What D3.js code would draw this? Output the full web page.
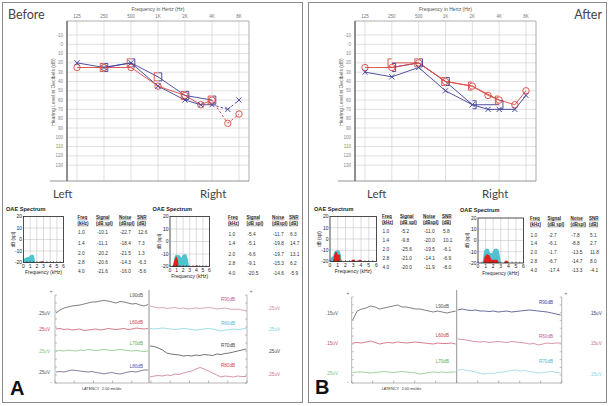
<!DOCTYPE html>
<html><head><meta charset="utf-8">
<script src="https://cdn.jsdelivr.net/npm/d3@7"></script>
<style>body{margin:0;background:#fff}svg{display:block}</style>
</head><body>
<svg id="c" width="609" height="406"></svg>
<script>
// ---------------- DATA ----------------
const audFreqs = [125,250,500,1000,2000,3000,4000,6000,8000];
const audTickFreqs = [125,250,500,1000,2000,4000,8000];
const audTickLabels = ["125","250","500","1K","2K","4K","8K"];
const audDbTicks = [-10,0,10,20,30,40,50,60,70,80,90,100,110,120,130];
const boneFreqs = [250,500,1000,2000,4000];

const beforeRightAir  = [25,25,25,45,55,65,60,85,75];
const beforeLeftAir   = [20,25,20,45,60,65,65,70,60];
const beforeRightBone = [25,20,35,55,60];
const beforeLeftBone  = [25,20,35,55,60];

const afterRightAir  = [25,25,20,40,45,55,60,65,50];
const afterLeftAir   = [30,35,25,50,65,70,70,70,55];
const afterRightBone = [20,20,40,45,60];
const afterLeftBone  = [25,20,40,65,65];

const oaeYTicks = [20,10,0,-10,-20];
const oaeXTicks = [0,1,2,3,4,5,6];
const tableFreqs = ["1.0","1.4","2.0","2.8","4.0"];
const tableHead1 = ["Freq","Signal","Noise","SNR"];
const tableHead2 = ["(kHz)","(dB spl)","(dBspl)","(dB)"];

const beforeLeftSignal = ["-10.1","-11.1","-20.2","-20.6","-21.6"];
const beforeLeftNoise  = ["-22.7","-18.4","-21.5","-14.3","-16.0"];
const beforeLeftSNR    = ["12.6","7.3","1.3","-6.3","-5.6"];
const beforeRightSignal = ["-5.4","-5.1","-6.6","-9.1","-20.5"];
const beforeRightNoise  = ["-11.7","-19.8","-19.7","-15.3","-14.6"];
const beforeRightSNR    = ["6.3","14.7","13.1","6.2","-5.9"];
const afterLeftSignal = ["-5.2","-9.8","-25.6","-21.0","-20.0"];
const afterLeftNoise  = ["-11.0","-20.0","-19.5","-14.1","-11.9"];
const afterLeftSNR    = ["5.8","10.1","-6.1","-6.9","-8.0"];
const afterRightSignal = ["-2.7","-6.1","-1.7","-6.7","-17.4"];
const afterRightNoise  = ["-7.8","-8.8","-13.5","-14.7","-13.3"];
const afterRightSNR    = ["5.1","2.7","11.8","8.0","-4.1"];

// OAE spectrum outlines [kHz, dB]
const beforeLeftNoiseSpec  = [[[0,-20],[0.1,-16.5],[0.5,-15.5],[0.8,-15],[1.0,-14],[1.3,-13],[1.5,-13.5],[1.6,-15],[1.75,-20]]];
const beforeLeftSignalSpec = [[[2.55,-20],[2.65,-19],[2.9,-19],[3.0,-20]]];
const beforeRightNoiseSpec  = [[[0.5,-20],[0.7,-12],[0.9,-10.5],[1.2,-11],[1.5,-11],[1.7,-13],[1.9,-11],[2.2,-10],[2.5,-10.5],[2.7,-14],[2.9,-20]]];
const beforeRightSignalSpec = [[[0.4,-20],[0.6,-16],[0.8,-13],[1.0,-12],[1.2,-15],[1.3,-20]],[[3.85,-20],[3.95,-19.2],[4.2,-19.2],[4.3,-20]]];
const afterLeftNoiseSpec  = [[[0,-20],[0.1,-17],[0.4,-15],[0.6,-11],[0.9,-10],[1.2,-10],[1.4,-14],[1.5,-20]]];
const afterLeftSignalSpec = [[[0.4,-20],[0.5,-15],[0.7,-11],[0.9,-12],[1.0,-14],[1.3,-14],[1.35,-20]],[[2.7,-20],[2.85,-18.5],[3.2,-18.5],[3.3,-20]],[[3.6,-20],[3.7,-18.5],[4.0,-18.5],[4.1,-20]],[[4.5,-20],[4.6,-19.5],[5.0,-19.5],[5.1,-20]]];
const afterRightNoiseSpec  = [[[0.6,-20],[0.8,-9],[1.1,-7],[1.4,-7.5],[1.6,-11],[1.9,-11],[2.1,-7.5],[2.4,-7],[2.7,-8],[2.9,-14],[3.0,-20]]];
const afterRightSignalSpec = [[[0.7,-20],[0.9,-14],[1.2,-12],[1.5,-13],[1.7,-16],[1.8,-17],[2.6,-17],[2.7,-20]],[[3.5,-20],[3.6,-18],[3.9,-18],[4.0,-20]]];

// ABR traces (relative amplitude, up positive)
const abrA_L90 = [0,3,5,6,7,7.5,8,9,10,11,11,12,12.5,12,11,10,11.5,11,10,9,9.5,8,7,8.5];
const abrA_L60 = [0,0.5,-0.5,0,-1,-0.5,0,-1.5,-1,-0.5,0,-1,-0.5,0.5,0,-0.5,0,0.5,-0.5,0,1,0.5,0,0.5];
const abrA_L70 = [0,0.5,0,1,0.5,0,1,0.5,1.5,1,0.5,1,1.5,1,0.5,1,1.5,1,0.5,0,0.5,0,-0.5,0];
const abrA_L80 = [0,0.5,0,1,2,1.5,1,0.5,0,0.5,-0.5,-1,-2,-1,-0.5,-1.5,-2,-1,0,0.5,0,1,2,2];
const abrA_R90 = [2,1,0,0.5,-0.5,0,0.5,-0.5,0,-1,-0.5,0,-0.5,0,0.5,0,-1,-0.5,0,-1,-1.5,-1,-2,-2.5];
const abrA_R60 = [0.5,0,0.5,1,0.5,0,-0.5,0,0.5,0,-0.5,-1,-0.5,0,0.5,0,-1,-2,-1,-0.5,0,-0.5,0,0.5];
const abrA_R70 = [5,4.5,3,1,-2,-3,-3.5,-4,-5,-4.5,-5,-4,-4.5,-3.5,-4,-4.5,-3,-3.5,-2.5,-2,-1,0,1,2];
const abrA_R80 = [-3,-2,-1.5,-2,-1,-1.5,0,-0.5,1,2,3,5,6.5,5,3,1,-1,-3,-2,-2.5,-3,-2,-2.5,-2.5];
const abrB_L90 = [-7,2,4,5,7,6,4,5,6,7,8,6,6,5,4,4,3,2,1,2,1,0,1,2];
const abrB_L60 = [0,0.5,0,1,2,0.5,-1,0,0.5,0,1,0.5,0,0.5,1,0.5,0,-0.5,-1,0,-0.5,-0.5,0,-1];
const abrB_L70 = [0,0.5,0.5,0,-0.5,0,0.5,1,0.5,0,0.5,1,0.5,0,-0.5,-1.5,-1,0,0.5,0,0.5,0,0.5,0.5];
const abrB_R90 = [3,4,3,2.5,3,2,2,1.5,2,1,1.5,2,1,1.5,2,2.5,3,2.5,2,1.5,1,0,-1,-2];
const abrB_R60 = [4,3.5,3,2,1.5,1,1.5,0.5,1,1.5,1,0.5,1.5,1,0.5,0,-1,-0.5,-2,-1,0,-0.5,0,0];
const abrB_R70 = [2,2.5,1.5,1,0,-1.5,-2,-1,-1.5,-0.5,0,0.5,1.5,2,1,1.5,0.5,0,-1,-0.5,0,0.5,-0.5,-1];

// ---------------- DRAWING ----------------
const RED = "#d9473f", BLUE = "#3d3d99", CYAN = "#4fc3cf", OAERED = "#e3211c";
const SMALL = "Liberation Sans, Arial, sans-serif";
const BIG = "Lato, 'Open Sans', sans-serif";
const svg = d3.select("#c");
svg.append("rect").attr("width",609).attr("height",406).attr("fill","#fff");

[[2.5,2.5,300,400],[308.5,2.5,298,400]].forEach(r=>{
  svg.append("rect").attr("x",r[0]).attr("y",r[1]).attr("width",r[2]).attr("height",r[3])
    .attr("fill","none").attr("stroke","#8a8a8a").attr("stroke-width",1);
});

function txt(g,x,y,s,o={}){
  const t=g.append("text").attr("x",x).attr("y",y).text(s)
    .attr("font-family",o.font||SMALL).attr("font-size",o.size||5)
    .attr("fill",o.fill||"#333").attr("text-anchor",o.anchor||"start");
  if(o.weight) t.attr("font-weight",o.weight);
  if(o.rotate) t.attr("transform",`rotate(-90,${x},${y})`);
  return t;
}

function drawAudiogram(L, d){
  const g = svg.append("g");
  const x = d3.scaleLog().base(2).domain([125,8000]).range([L.left+10, L.right-10]);
  const y = d3.scaleLinear().domain([-25,147]).range([L.top, L.bottom]);
  g.append("g").selectAll("line").data(audTickFreqs).join("line")
    .attr("x1",f=>x(f)).attr("x2",f=>x(f)).attr("y1",L.top).attr("y2",L.bottom)
    .attr("stroke","#d2d2d2").attr("stroke-width",0.7);
  g.append("g").selectAll("line").data(audDbTicks).join("line")
    .attr("x1",L.left).attr("x2",L.right).attr("y1",v=>y(v)).attr("y2",v=>y(v))
    .attr("stroke","#d2d2d2").attr("stroke-width",0.7);
  g.append("path").attr("d",`M${L.left},${L.top}H${L.right}V${L.bottom}`)
    .attr("fill","none").attr("stroke","#9a9a9a").attr("stroke-width",0.8);
  g.append("line").attr("x1",L.left).attr("x2",L.left).attr("y1",L.top).attr("y2",L.bottom)
    .attr("stroke","#444").attr("stroke-width",1.2);
  g.append("line").attr("x1",L.left-17).attr("x2",L.right).attr("y1",L.bottom).attr("y2",L.bottom)
    .attr("stroke","#777").attr("stroke-width",0.8);
  audTickFreqs.forEach((f,i)=>txt(g,x(f),L.top-3,audTickLabels[i],{size:4.5,fill:"#777",anchor:"middle"}));
  audDbTicks.forEach(v=>txt(g,L.left-4,y(v)+1.6,String(v),{size:4.5,fill:"#888",anchor:"end"}));
  txt(g,(L.left+L.right)/2,11,"Frequency in Hertz (Hz)",{size:5,fill:"#555",anchor:"middle"});
  txt(g,L.left-12,92,"Hearing Level in Decibels (dB)",{size:5,fill:"#555",anchor:"middle",rotate:true});

  const air = (vals)=>vals.map((v,i)=>[x(audFreqs[i]),y(v)]);
  const bone = (vals)=>vals.map((v,i)=>[x(boneFreqs[i]),y(v)]);
  function polyline(pts,color,dashFrom){
    for(let i=0;i<pts.length-1;i++){
      g.append("line").attr("x1",pts[i][0]).attr("y1",pts[i][1]).attr("x2",pts[i+1][0]).attr("y2",pts[i+1][1])
        .attr("stroke",color).attr("stroke-width",0.9)
        .attr("stroke-dasharray", i>=dashFrom ? "2.5,2" : null);
    }
  }
  const rA = air(d.rightAir), lA = air(d.leftAir), rB = bone(d.rightBone), lB = bone(d.leftBone);
  if(d.leftBoneLine) polyline(lB,BLUE,99);
  if(d.rightBoneLine) polyline(rB,RED,99);
  polyline(lA,BLUE,d.dashFrom);
  polyline(rA,RED,d.dashFrom);
  g.append("g").selectAll("path").data(rB).join("path")
    .attr("d",p=>`M${p[0]-0.3},${p[1]-4}H${p[0]-3.8}V${p[1]+4}H${p[0]-0.3}`)
    .attr("fill","none").attr("stroke",RED).attr("stroke-width",0.9);
  g.append("g").selectAll("path").data(lB).join("path")
    .attr("d",p=>`M${p[0]+0.3},${p[1]-4}H${p[0]+3.8}V${p[1]+4}H${p[0]+0.3}`)
    .attr("fill","none").attr("stroke",BLUE).attr("stroke-width",0.9);
  g.append("g").selectAll("circle").data(rA).join("circle")
    .attr("cx",p=>p[0]).attr("cy",p=>p[1]).attr("r",3.2)
    .attr("fill","none").attr("stroke",RED).attr("stroke-width",0.9);
  g.append("g").selectAll("path").data(lA).join("path")
    .attr("d",p=>`M${p[0]-2.6},${p[1]-2.6}L${p[0]+2.6},${p[1]+2.6}M${p[0]-2.6},${p[1]+2.6}L${p[0]+2.6},${p[1]-2.6}`)
    .attr("stroke",BLUE).attr("stroke-width",0.9);
}

drawAudiogram({left:67,right:249,top:21,bottom:181},
  {rightAir:beforeRightAir,leftAir:beforeLeftAir,rightBone:beforeRightBone,leftBone:beforeLeftBone,dashFrom:6,leftBoneLine:true,rightBoneLine:false});
drawAudiogram({left:355,right:536,top:21,bottom:181},
  {rightAir:afterRightAir,leftAir:afterLeftAir,rightBone:afterRightBone,leftBone:afterLeftBone,dashFrom:99,leftBoneLine:true,rightBoneLine:true});

txt(svg,8,19,"Before",{font:BIG,size:12.5,fill:"#444"});
txt(svg,602,19,"After",{font:BIG,size:12.5,fill:"#444",anchor:"end"});
txt(svg,53,198,"Left",{font:BIG,size:11.5,fill:"#444"});
txt(svg,200,198,"Right",{font:BIG,size:11.5,fill:"#444"});
txt(svg,367,198,"Left",{font:BIG,size:11.5,fill:"#444"});
txt(svg,482,198,"Right",{font:BIG,size:11.5,fill:"#444"});

// ---------------- OAE ----------------
function drawOAE(L, noiseSpec, signalSpec, tbl){
  const g = svg.append("g");
  const x = d3.scaleLinear().domain([0,6]).range([L.left,L.right]);
  const y = d3.scaleLinear().domain([-20,20]).range([L.bottom,L.top]);
  txt(g,L.titleX,L.titleY,"OAE Spectrum",{size:5.6,weight:"bold",fill:"#222"});
  g.append("g").selectAll("line").data([1,2,3,4,5]).join("line")
    .attr("x1",v=>x(v)).attr("x2",v=>x(v)).attr("y1",L.top).attr("y2",L.bottom)
    .attr("stroke","#bbb").attr("stroke-width",0.5);
  g.append("g").selectAll("line").data([-10,0,10]).join("line")
    .attr("x1",L.left).attr("x2",L.right).attr("y1",v=>y(v)).attr("y2",v=>y(v))
    .attr("stroke","#bbb").attr("stroke-width",0.5);
  const area = d3.area().x(p=>x(p[0])).y0(y(-20)).y1(p=>y(p[1]));
  noiseSpec.forEach(s=>g.append("path").attr("d",area(s)).attr("fill",CYAN));
  signalSpec.forEach(s=>g.append("path").attr("d",area(s)).attr("fill",OAERED));
  g.append("rect").attr("x",L.left).attr("y",L.top).attr("width",L.right-L.left).attr("height",L.bottom-L.top)
    .attr("fill","none").attr("stroke","#222").attr("stroke-width",0.8);
  g.append("g").selectAll("line").data(d3.range(0,6.01,0.5)).join("line")
    .attr("x1",v=>x(v)).attr("x2",v=>x(v)).attr("y1",L.bottom).attr("y2",L.bottom-1.5)
    .attr("stroke","#222").attr("stroke-width",0.5);
  oaeXTicks.forEach(v=>txt(g,x(v),L.bottom+5,String(v),{size:5,fill:"#222",anchor:"middle"}));
  oaeYTicks.forEach(v=>txt(g,L.left-1.5,y(v)+1.8,String(v),{size:5,fill:"#222",anchor:"end"}));
  txt(g,(L.left+L.right)/2,L.bottom+11.5,"Frequency (kHz)",{size:5,fill:"#222",anchor:"middle"});
  txt(g,L.left-9,(L.top+L.bottom)/2,"dB (spl)",{size:4.5,fill:"#222",anchor:"middle",rotate:true});
  // table headers with underlines
  [[tableHead1,tbl.h1],[tableHead2,tbl.h2]].forEach(([hs,hy])=>{
    hs.forEach((h,i)=>{
      const t = txt(g,tbl.cols[i],hy+1.6,h,{size:4.5,weight:"bold",fill:"#222"});
      const w = t.node().getComputedTextLength();
      g.append("line").attr("x1",tbl.cols[i]).attr("x2",tbl.cols[i]+w)
        .attr("y1",hy+2.3).attr("y2",hy+2.3).attr("stroke","#222").attr("stroke-width",0.4);
    });
  });
  const cols=[tableFreqs,tbl.signal,tbl.noise,tbl.snr];
  cols.forEach((c,ci)=>c.forEach((v,ri)=>txt(g,tbl.cols[ci]+(ci?1:0.5),tbl.rows[ri]+1.8,v,{size:4.8,fill:"#333"})));
}

drawOAE({left:23.5,right:63.5,top:216.5,bottom:262.5,titleX:6,titleY:211},
  beforeLeftNoiseSpec,beforeLeftSignalSpec,
  {cols:[77.5,96,119,137],h1:217.5,h2:223.5,rows:[232.3,243,253.3,262.3,271],signal:beforeLeftSignal,noise:beforeLeftNoise,snr:beforeLeftSNR});
drawOAE({left:170,right:209.5,top:216.5,bottom:266.5,titleX:152.5,titleY:210.5},
  beforeRightNoiseSpec,beforeRightSignalSpec,
  {cols:[228,246.5,272,289],h1:217.5,h2:223.5,rows:[234.3,243.5,254,263.3,273],signal:beforeRightSignal,noise:beforeRightNoise,snr:beforeRightSNR});
drawOAE({left:330,right:376.5,top:216.5,bottom:261.5,titleX:314,titleY:210.5},
  afterLeftNoiseSpec,afterLeftSignalSpec,
  {cols:[382,400,423,442],h1:216,h2:222,rows:[231,240,249.3,258.3,267.3],signal:afterLeftSignal,noise:afterLeftNoise,snr:afterLeftSNR});
drawOAE({left:478,right:523.5,top:218,bottom:263,titleX:460,titleY:212},
  afterRightNoiseSpec,afterRightSignalSpec,
  {cols:[530,547.5,570.5,589],h1:218.5,h2:224.5,rows:[235,243.5,252.3,261,270],signal:afterRightSignal,noise:afterRightNoise,snr:afterRightSNR});

// ---------------- ABR ----------------
function drawABR(L, traces){
  const g = svg.append("g");
  const ax = "#999";
  [L.axisL,L.axisR].forEach(xx=>g.append("line").attr("x1",xx).attr("x2",xx).attr("y1",L.top).attr("y2",L.bottom).attr("stroke",ax).attr("stroke-width",0.7));
  g.append("line").attr("x1",L.mid).attr("x2",L.mid).attr("y1",L.midTop).attr("y2",L.bottom).attr("stroke","#777").attr("stroke-width",0.8);
  g.append("line").attr("x1",L.axisL).attr("x2",L.axisR).attr("y1",L.bottom).attr("y2",L.bottom).attr("stroke",ax).attr("stroke-width",0.7);
  const bx = d3.scaleLinear().domain([0,10]).range([L.axisL,L.axisR]);
  g.append("g").selectAll("line").data(d3.range(0,11)).join("line")
    .attr("x1",v=>bx(v)).attr("x2",v=>bx(v)).attr("y1",L.bottom).attr("y2",L.bottom-2.5).attr("stroke",ax).attr("stroke-width",0.7);
  const vy = d3.scaleLinear().domain([0,11]).range([L.top,L.bottom]);
  [L.axisL,L.axisR].forEach((xx,k)=>g.append("g").selectAll("line").data(d3.range(0,12)).join("line")
    .attr("x1",xx).attr("x2",xx+(k?-2:2)).attr("y1",v=>vy(v)).attr("y2",v=>vy(v)).attr("stroke",ax).attr("stroke-width",0.6));
  txt(g,L.axisL-4,L.top-2,"+",{size:4.5,fill:"#555",anchor:"middle"});
  txt(g,L.axisR+4,L.top-2,"+",{size:4.5,fill:"#555",anchor:"middle"});
  txt(g,L.axisL-4,L.bottom+1,"-",{size:4.5,fill:"#555",anchor:"middle"});
  txt(g,L.latX,389.5,"LATENCY",{size:3.8,fill:"#333"});
  txt(g,L.latX+20,389.5,"2.00 ms/div",{size:3.8,fill:"#333"});
  traces.forEach(t=>{
    const x0 = t.side==="L" ? L.axisL+1 : L.mid+1;
    const x1 = t.side==="L" ? L.mid-1 : L.axisR-1;
    const x = d3.scaleLinear().domain([0,t.vals.length-1]).range([x0,x1]);
    const y = d3.scaleLinear().domain([-10,10]).range([t.base+10,t.base-10]);
    g.append("path").attr("d",d3.line().x((v,i)=>x(i)).y(v=>y(v))(t.vals))
      .attr("fill","none").attr("stroke",t.color).attr("stroke-width",0.75);
    const lx = t.side==="L" ? L.labL : L.labR;
    txt(g,lx,t.labelY+1.6,t.label,{size:4.6,fill:t.labelColor||t.color,anchor:"end"});
    if(t.side==="L") txt(g,L.axisL-L.uvOffL,t.uvY+1.6,t.uv,{size:4.6,fill:t.uvColor||t.color,anchor:"end"});
    else txt(g,L.axisR+L.uvOffR,t.uvY+1.6,t.uv,{size:4.6,fill:t.uvColor||t.color});
  });
}

drawABR({axisL:55,mid:149,axisR:247,top:295,bottom:383,midTop:290,labL:143,labR:235,uvOffL:5,uvOffR:21,latX:82},[
  {side:"L",vals:abrA_L90,base:313,color:"#555",label:"L90dB",labelY:295,uv:".25uV",uvY:313},
  {side:"L",vals:abrA_L60,base:329,color:"#c8506a",label:"L60dB",labelColor:"#c83c4a",labelY:322.7,uv:".25uV",uvY:329},
  {side:"L",vals:abrA_L70,base:351,color:"#7cc47c",label:"L70dB",labelColor:"#5aae5a",labelY:343,uv:".25uV",uvY:351},
  {side:"L",vals:abrA_L80,base:372,color:"#555a7a",label:"L80dB",labelColor:"#5050b0",labelY:366,uv:".25uV",uvColor:"#555",uvY:372},
  {side:"R",vals:abrA_R90,base:308,color:"#c88aa4",label:"R90dB",labelColor:"#c0609a",labelY:299,uv:".25uV",uvY:308},
  {side:"R",vals:abrA_R60,base:329,color:"#7cd0dc",label:"R60dB",labelColor:"#50b8d0",labelY:323,uv:".25uV",uvY:329},
  {side:"R",vals:abrA_R70,base:351,color:"#444",label:"R70dB",labelY:345.7,uv:".25uV",uvY:351},
  {side:"R",vals:abrA_R80,base:374,color:"#c8708a",label:"R80dB",labelColor:"#d04050",labelY:365,uv:".25uV",uvY:374}
]);
drawABR({axisL:351.7,mid:456.7,axisR:561.7,top:297,bottom:383,midTop:290,labL:449,labR:553,uvOffL:13.7,uvOffR:28,latX:381.7},[
  {side:"L",vals:abrB_L90,base:313,color:"#555",label:"L90dB",labelY:306,uv:".15uV",uvY:313},
  {side:"L",vals:abrB_L60,base:343,color:"#c8506a",label:"L60dB",labelColor:"#c83c4a",labelY:335,uv:".15uV",uvY:343},
  {side:"L",vals:abrB_L70,base:372.5,color:"#7cc47c",label:"L70dB",labelColor:"#5aae5a",labelY:361.7,uv:".25uV",uvY:373},
  {side:"R",vals:abrB_R90,base:313,color:"#3a3a80",label:"R90dB",labelColor:"#4040a0",labelY:302.7,uv:".15uV",uvY:313},
  {side:"R",vals:abrB_R60,base:343,color:"#c8708a",label:"R60dB",labelColor:"#c0609a",labelY:336,uv:".15uV",uvY:343},
  {side:"R",vals:abrB_R70,base:372,color:"#8cd4e4",label:"R70dB",labelColor:"#50b8d0",labelY:361,uv:".15uV",uvY:374}
]);

txt(svg,10,395,"A",{size:20,weight:"bold",fill:"#111"});
txt(svg,315,394,"B",{size:20,weight:"bold",fill:"#111"});
</script>
</body></html>
